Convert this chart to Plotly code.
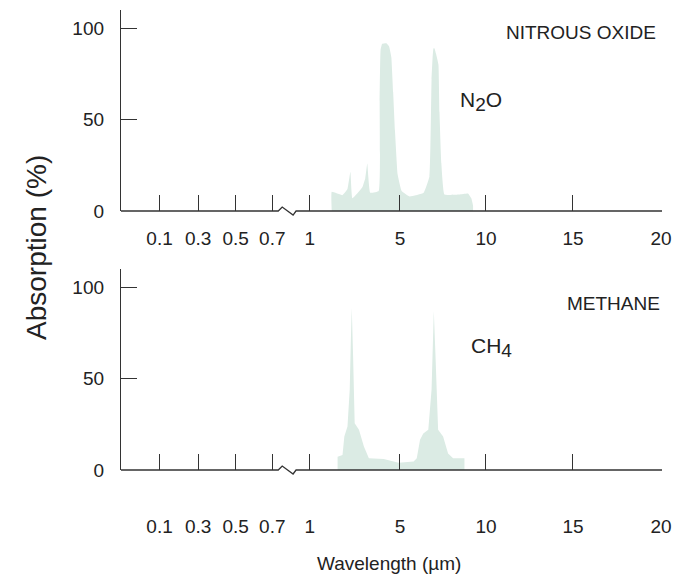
import numpy as np
import plotly.graph_objects as go

# ---- data ----
TICK_VALS = [0.1, 0.3, 0.5, 0.7, 1, 5, 10, 15, 20]
TICK_TEXT = ["0.1", "0.3", "0.5", "0.7", "1", "5", "10", "15", "20"]
# custom (broken) wavelength scale: axis position of each tick value
TICK_POS = [39, 78, 116, 153, 191, 282, 369, 457, 546]
AXIS_LEN = 547
BREAK_POS = 169

n2o_wl = [1.97, 1.97, 2.45, 2.67, 2.80, 2.89, 3.33, 3.46, 3.55, 3.68, 4.06, 4.10, 4.14, 4.21,
          4.40, 4.52, 4.62, 4.70, 4.78, 4.90, 5.10, 5.57, 6.38, 6.72, 6.84, 6.90, 6.95, 7.01,
          7.10, 7.24, 7.30, 7.41, 7.59, 8.45, 8.97, 9.15, 9.25, 9.25]
n2o_ab = [0, 10.5, 8.7, 12, 21.5, 7, 13, 18, 26, 10, 11, 60, 88, 91.5,
          91.8, 90, 84, 65, 44, 20, 11, 8, 10, 19, 72, 84, 89, 89,
          86, 80, 54, 26, 9, 9, 9.5, 7, 3, 0]

ch4_wl = [2.23, 2.23, 2.45, 2.53, 2.67, 2.77, 2.82, 2.86, 2.92, 2.99, 3.18, 3.40, 3.62,
          4.28, 4.94, 5.80, 5.98, 6.17, 6.36, 6.65, 6.84, 6.94, 6.97, 7.07, 7.22, 7.51,
          7.80, 8.09, 8.75, 8.75]
ch4_ab = [0, 7.3, 8.2, 18.3, 23.8, 44, 71, 88.8, 62, 25.6, 22, 12.8, 6.4,
          6, 4, 4.6, 6.4, 16.5, 20, 22, 44, 71, 87, 62, 22, 18.3,
          9, 6.4, 6.4, 0]


def wl_to_axis(wl):
    return np.interp(np.asarray(wl, dtype=float), TICK_VALS, TICK_POS)


FILL = "rgb(219,235,228)"
INK = "#333333"
FONT = "Liberation Sans"

fig = go.Figure()
fig.add_trace(go.Scatter(x=wl_to_axis(n2o_wl), y=n2o_ab, mode="lines", fill="tozeroy",
                         fillcolor=FILL, line=dict(width=0, color=FILL, shape="spline", smoothing=0.3),
                         xaxis="x", yaxis="y", showlegend=False, hoverinfo="skip"))
fig.add_trace(go.Scatter(x=wl_to_axis(ch4_wl), y=ch4_ab, mode="lines", fill="tozeroy",
                         fillcolor=FILL, line=dict(width=0, color=FILL),
                         xaxis="x2", yaxis="y2", showlegend=False, hoverinfo="skip"))

tickfont = dict(family=FONT, size=19, color="#222")

xcommon = dict(range=[0, AXIS_LEN], tickvals=TICK_POS, ticktext=TICK_TEXT, ticks="inside",
               ticklen=16, tickwidth=1.3, tickcolor=INK, showline=False, showgrid=False,
               zeroline=False, tickfont=tickfont, domain=[0, 1])
ycommon = dict(range=[0, 110], tickvals=[0, 50, 100], ticks="inside", ticklen=16,
               tickwidth=1.3, tickcolor=INK, showline=True, linecolor=INK, linewidth=1.3,
               showgrid=False, zeroline=False, tickfont=tickfont, ticklabelstandoff=12)

fig.update_layout(
    width=682, height=585,
    margin=dict(l=121, r=14, t=10, b=115),
    paper_bgcolor="white", plot_bgcolor="white",
    xaxis=dict(**xcommon, anchor="y", ticklabelstandoff=14),
    yaxis=dict(**ycommon, domain=[0.563, 1.0], anchor="x"),
    xaxis2=dict(**xcommon, anchor="y2", ticklabelstandoff=43),
    yaxis2=dict(**ycommon, domain=[0.0, 0.437], anchor="x2"),
)

# x axis lines with break zigzag
b = BREAK_POS / AXIS_LEN
for xr, yr in (("x domain", "y domain"), ("x2 domain", "y2 domain")):
    h = 4.0 / 201
    path = (f"M 0,0 L {b - 10/AXIS_LEN},0 L {b - 6/AXIS_LEN},{h} "
            f"L {b + 5/AXIS_LEN},{-h} L {b + 8/AXIS_LEN},0 L 1,0")
    fig.add_shape(type="path", path=path, xref=xr, yref=yr,
                  line=dict(color=INK, width=1.3))

lab = dict(family=FONT, color="#222")
SUB = "<sub><span style='font-size:19px'>{}</span></sub>"
fig.add_annotation(text="NITROUS OXIDE", x=543, y=97.5, xref="x", yref="y",
                   xanchor="right", yanchor="middle", showarrow=False, font=dict(**lab, size=19))
fig.add_annotation(text="N" + SUB.format("2") + "O", x=341, y=60, xref="x", yref="y",
                   xanchor="left", yanchor="middle", showarrow=False, font=dict(**lab, size=21))
fig.add_annotation(text="METHANE", x=547, y=91, xref="x2", yref="y2",
                   xanchor="right", yanchor="middle", showarrow=False, font=dict(**lab, size=19))
fig.add_annotation(text="CH" + SUB.format("4"), x=352, y=67, xref="x2", yref="y2",
                   xanchor="left", yanchor="middle", showarrow=False, font=dict(**lab, size=21))
fig.add_annotation(text="Absorption (%)", x=-0.155, y=0.483, xref="paper", yref="paper",
                   xanchor="center", yanchor="middle", textangle=-90, showarrow=False,
                   font=dict(**lab, size=28))
fig.add_annotation(text="Wavelength (µm)", x=(392 - 121) / AXIS_LEN, y=-(563 - 470) / 460,
                   xref="paper", yref="paper", xanchor="center", yanchor="middle",
                   showarrow=False, font=dict(**lab, size=19))

fig.write_html("out.html")
